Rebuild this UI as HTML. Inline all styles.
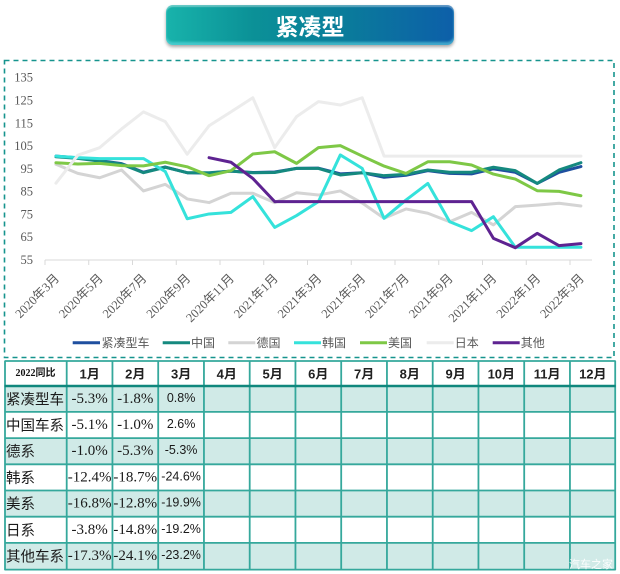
<!DOCTYPE html>
<html><head><meta charset="utf-8"><style>
html,body{margin:0;padding:0;background:#fff;}
body{width:620px;height:574px;position:relative;overflow:hidden;}
.title{position:absolute;left:166px;top:5px;width:288px;height:40px;border-radius:7px;
background:linear-gradient(90deg,#18b3ab 0%,#0b9197 30%,#0a7d9a 60%,#0d5fa9 100%);
box-shadow:0 2px 3px rgba(0,0,0,.35), inset 0 -3px 2px rgba(110,225,235,.55), inset 0 2px 1px rgba(255,255,255,.35);
color:#fff;font-family:"Noto Sans CJK SC","WenQuanYi Zen Hei",sans-serif;font-size:23px;font-weight:bold;
text-align:center;line-height:40px;letter-spacing:0px;}
svg{position:absolute;left:0;top:0;}
</style></head><body>
<svg width="620" height="574" viewBox="0 0 620 574" xmlns="http://www.w3.org/2000/svg">
<!-- dashed frame -->
<rect x="4.5" y="60.5" width="609.5" height="297" fill="none" stroke="#16948e" stroke-width="1.6" stroke-dasharray="5 4"/>
<!-- y labels -->
<g font-family="Liberation Serif, serif" font-size="12.5" fill="#595959" text-anchor="end" dominant-baseline="central">
<text x="33" y="77.7">135</text>
<text x="33" y="100.5">125</text>
<text x="33" y="123.3">115</text>
<text x="33" y="146.1">105</text>
<text x="33" y="168.9">95</text>
<text x="33" y="191.7">85</text>
<text x="33" y="214.4">75</text>
<text x="33" y="237.2">65</text>
<text x="33" y="260">55</text>
</g>
<!-- axis -->
<line x1="45" y1="260" x2="592" y2="260" stroke="#d9d9d9" stroke-width="1"/>
<g stroke="#d9d9d9" stroke-width="1">
<line x1="45" y1="260" x2="45" y2="265"/><line x1="88.75" y1="260" x2="88.75" y2="265"/>
<line x1="132.5" y1="260" x2="132.5" y2="265"/><line x1="176.25" y1="260" x2="176.25" y2="265"/>
<line x1="220" y1="260" x2="220" y2="265"/><line x1="263.75" y1="260" x2="263.75" y2="265"/>
<line x1="307.5" y1="260" x2="307.5" y2="265"/><line x1="351.25" y1="260" x2="351.25" y2="265"/>
<line x1="395" y1="260" x2="395" y2="265"/><line x1="438.75" y1="260" x2="438.75" y2="265"/>
<line x1="482.5" y1="260" x2="482.5" y2="265"/><line x1="526.25" y1="260" x2="526.25" y2="265"/>
<line x1="570" y1="260" x2="570" y2="265"/>
</g>
<!-- x labels -->
<g font-family="Liberation Serif, 'Noto Sans CJK SC', serif" font-size="12.5" fill="#595959" text-anchor="end">
<text x="60" y="279" transform="rotate(-45 60 279)">2020年3月</text>
<text x="103.7" y="279" transform="rotate(-45 103.7 279)">2020年5月</text>
<text x="147.4" y="279" transform="rotate(-45 147.4 279)">2020年7月</text>
<text x="191.2" y="279" transform="rotate(-45 191.2 279)">2020年9月</text>
<text x="234.9" y="279" transform="rotate(-45 234.9 279)">2020年11月</text>
<text x="278.7" y="279" transform="rotate(-45 278.7 279)">2021年1月</text>
<text x="322.4" y="279" transform="rotate(-45 322.4 279)">2021年3月</text>
<text x="366.2" y="279" transform="rotate(-45 366.2 279)">2021年5月</text>
<text x="409.9" y="279" transform="rotate(-45 409.9 279)">2021年7月</text>
<text x="453.7" y="279" transform="rotate(-45 453.7 279)">2021年9月</text>
<text x="497.4" y="279" transform="rotate(-45 497.4 279)">2021年11月</text>
<text x="541.2" y="279" transform="rotate(-45 541.2 279)">2022年1月</text>
<text x="584.9" y="279" transform="rotate(-45 584.9 279)">2022年3月</text>
</g>
<!-- series -->
<g transform="translate(55.94,385.33) scale(21.875,-2.2788)" fill="none" stroke-linejoin="round" stroke-linecap="round">
<polyline vector-effect="non-scaling-stroke" stroke="#1f4f9f" stroke-width="3" points="0,100.6 1,99.8 2,98.6 3,97.3 4,93.5 5,95.8 6,93.3 7,93.1 8,94 9,93.4 10,93.6 11,95.2 12,95.3 13,92.8 14,93.3 15,91.3 16,92.2 17,94.2 18,93 19,92.8 20,95 21,93.5 22,88.6 23,93.5 24,96"/>
<polyline vector-effect="non-scaling-stroke" stroke="#15897f" stroke-width="3" points="0,100.3 1,99.6 2,98.4 3,97.1 4,93.3 5,95.7 6,93.3 7,93.3 8,94 9,93.3 10,93.4 11,95.2 12,95.2 13,92.3 14,93.3 15,92 16,92.6 17,94.5 18,93.5 19,93.5 20,95.7 21,94.2 22,88.6 23,94.5 24,97.7"/>
<polyline vector-effect="non-scaling-stroke" stroke="#d4d4d4" stroke-width="3" points="0,97 1,93 2,91.1 3,94.5 4,85.3 5,88.2 6,81.8 7,80.2 8,84.3 9,84.3 10,80.2 11,84.5 12,83.5 13,85.3 14,80 15,73.3 16,77.4 17,75.5 18,71.8 19,75.9 20,70.4 21,78.4 22,79.1 23,79.9 24,78.7"/>
<polyline vector-effect="non-scaling-stroke" stroke="#35e2db" stroke-width="3" points="0,100.6 1,99.9 2,99.5 3,99.5 4,99.5 5,93.8 6,73.1 7,75.2 8,75.9 9,82.8 10,69.3 11,74.5 12,80.6 13,101.1 14,95.2 15,73.3 16,81.3 17,88.6 18,71.8 19,67.9 20,74 21,60.6 22,60.6 23,60.6 24,60.6"/>
<polyline vector-effect="non-scaling-stroke" stroke="#7ec846" stroke-width="3" points="0,97.7 1,97.1 2,97.4 3,96.4 4,96.3 5,97.9 6,95.9 7,92 8,94.2 9,101.5 10,102.5 11,97.4 12,104.3 13,105.2 14,100.6 15,96.2 16,93 17,98.1 18,98.1 19,96.7 20,92.7 21,90.5 22,85.4 23,85.1 24,83.2"/>
<polyline vector-effect="non-scaling-stroke" stroke="#ececec" stroke-width="3" points="0,88.7 1,101 2,104.3 3,112.5 4,120 5,115.7 6,101.4 7,113.9 8,120 9,126.2 10,104.3 11,117.9 12,124.5 13,123 14,126.2 15,100.6 16,100.6 17,100.6 18,100.6 19,100.6 20,100.6 21,100.6 22,100.6 23,100.6 24,100.6"/>
<polyline vector-effect="non-scaling-stroke" stroke="#5e2391" stroke-width="3" points="7,99.9 8,97.9 9,90.8 10,80.6 11,80.6 12,80.6 13,80.6 14,80.6 15,80.6 16,80.6 17,80.6 18,80.6 19,80.6 20,64.5 21,60.4 22,66.7 23,61.3 24,62.2"/>
</g>
<!-- legend -->
<g stroke-width="3">
<line x1="72.7" y1="342.7" x2="100" y2="342.7" stroke="#1f4f9f"/>
<line x1="162.7" y1="342.7" x2="190" y2="342.7" stroke="#15897f"/>
<line x1="228.3" y1="342.7" x2="255.3" y2="342.7" stroke="#d4d4d4"/>
<line x1="294" y1="342.7" x2="321" y2="342.7" stroke="#35e2db"/>
<line x1="360" y1="342.7" x2="387" y2="342.7" stroke="#7ec846"/>
<line x1="426.7" y1="342.7" x2="453.7" y2="342.7" stroke="#ececec"/>
<line x1="492.7" y1="342.7" x2="519.7" y2="342.7" stroke="#5e2391"/>
</g>
<g font-family="'Noto Sans CJK SC', sans-serif" font-size="12" fill="#595959" dominant-baseline="central">
<text x="101.5" y="342.7">紧凑型车</text>
<text x="191" y="342.7">中国</text>
<text x="256.5" y="342.7">德国</text>
<text x="322" y="342.7">韩国</text>
<text x="388" y="342.7">美国</text>
<text x="454.7" y="342.7">日本</text>
<text x="520.7" y="342.7">其他</text>
</g>
<!-- table shading -->
<g fill="#d0eae7">
<rect x="5" y="385.7" width="610.7" height="26.2"/>
<rect x="5" y="438.1" width="610.7" height="26.2"/>
<rect x="5" y="490.5" width="610.7" height="26.2"/>
<rect x="5" y="542.9" width="610.7" height="26.2"/>
</g>
<!-- grid -->
<g stroke="#35a89c" stroke-width="1.8">
<line x1="4.5" y1="361" x2="615.7" y2="361"/>
<line x1="4.5" y1="411.9" x2="615.7" y2="411.9"/>
<line x1="4.5" y1="438.1" x2="615.7" y2="438.1"/>
<line x1="4.5" y1="464.3" x2="615.7" y2="464.3"/>
<line x1="4.5" y1="490.5" x2="615.7" y2="490.5"/>
<line x1="4.5" y1="516.7" x2="615.7" y2="516.7"/>
<line x1="4.5" y1="542.9" x2="615.7" y2="542.9"/>
<line x1="4.5" y1="569.6" x2="615.7" y2="569.6"/>
<line x1="5" y1="361" x2="5" y2="570"/>
<line x1="66.7" y1="361" x2="66.7" y2="570"/>
<line x1="112.45" y1="361" x2="112.45" y2="570"/>
<line x1="158.2" y1="361" x2="158.2" y2="570"/>
<line x1="203.95" y1="361" x2="203.95" y2="570"/>
<line x1="249.7" y1="361" x2="249.7" y2="570"/>
<line x1="295.45" y1="361" x2="295.45" y2="570"/>
<line x1="341.2" y1="361" x2="341.2" y2="570"/>
<line x1="386.95" y1="361" x2="386.95" y2="570"/>
<line x1="432.7" y1="361" x2="432.7" y2="570"/>
<line x1="478.45" y1="361" x2="478.45" y2="570"/>
<line x1="524.2" y1="361" x2="524.2" y2="570"/>
<line x1="569.95" y1="361" x2="569.95" y2="570"/>
<line x1="615.2" y1="361" x2="615.2" y2="570"/>
</g>
<line x1="4.5" y1="386" x2="615.7" y2="386" stroke="#10877d" stroke-width="2.4"/>
<!-- header -->
<text x="35.5" y="373.5" font-family="Liberation Serif, 'Noto Sans CJK SC', serif" font-size="10" font-weight="bold" fill="#111" text-anchor="middle" dominant-baseline="central">2022同比</text>
<g font-family="Liberation Sans, 'Noto Sans CJK SC', sans-serif" font-size="13" font-weight="bold" fill="#222" text-anchor="middle" dominant-baseline="central">
<text x="89.6" y="374">1月</text><text x="135.3" y="374">2月</text><text x="181.1" y="374">3月</text>
<text x="226.8" y="374">4月</text><text x="272.6" y="374">5月</text><text x="318.3" y="374">6月</text>
<text x="364.1" y="374">7月</text><text x="409.8" y="374">8月</text><text x="455.6" y="374">9月</text>
<text x="501.3" y="374">10月</text><text x="547.1" y="374">11月</text><text x="592.8" y="374">12月</text>
</g>
<!-- row labels -->
<g font-family="'Noto Sans CJK SC', sans-serif" font-size="14.5" fill="#1a1a1a" dominant-baseline="central">
<text x="6" y="398.8">紧凑型车</text>
<text x="6" y="425">中国车系</text>
<text x="6" y="451.2">德系</text>
<text x="6" y="477.4">韩系</text>
<text x="6" y="503.6">美系</text>
<text x="6" y="529.8">日系</text>
<text x="6" y="556">其他车系</text>
</g>
<!-- values cols 1-2 -->
<g font-family="Liberation Serif, serif" font-size="15" fill="#1a1a1a" text-anchor="middle" dominant-baseline="central">
<text x="89.6" y="398.8">-5.3%</text><text x="135.3" y="398.8">-1.8%</text>
<text x="89.6" y="425">-5.1%</text><text x="135.3" y="425">-1.0%</text>
<text x="89.6" y="451.2">-1.0%</text><text x="135.3" y="451.2">-5.3%</text>
<text x="89.6" y="477.4">-12.4%</text><text x="135.3" y="477.4">-18.7%</text>
<text x="89.6" y="503.6">-16.8%</text><text x="135.3" y="503.6">-12.8%</text>
<text x="89.6" y="529.8">-3.8%</text><text x="135.3" y="529.8">-14.8%</text>
<text x="89.6" y="556">-17.3%</text><text x="135.3" y="556">-24.1%</text>
</g>
<g font-family="Liberation Sans, sans-serif" font-size="12.5" fill="#1a1a1a" text-anchor="middle" dominant-baseline="central">
<text x="181.1" y="397.8">0.8%</text>
<text x="181.1" y="424">2.6%</text>
<text x="181.1" y="450.2">-5.3%</text>
<text x="181.1" y="476.4">-24.6%</text>
<text x="181.1" y="502.6">-19.9%</text>
<text x="181.1" y="528.8">-19.2%</text>
<text x="181.1" y="555">-23.2%</text>
</g>
<text x="569" y="564" font-family="'Noto Sans CJK SC', sans-serif" font-size="11" fill="#ffffff" opacity="0.95" dominant-baseline="central">汽车之家</text>
</svg>
<div class="title">紧凑型</div>
</body></html>
